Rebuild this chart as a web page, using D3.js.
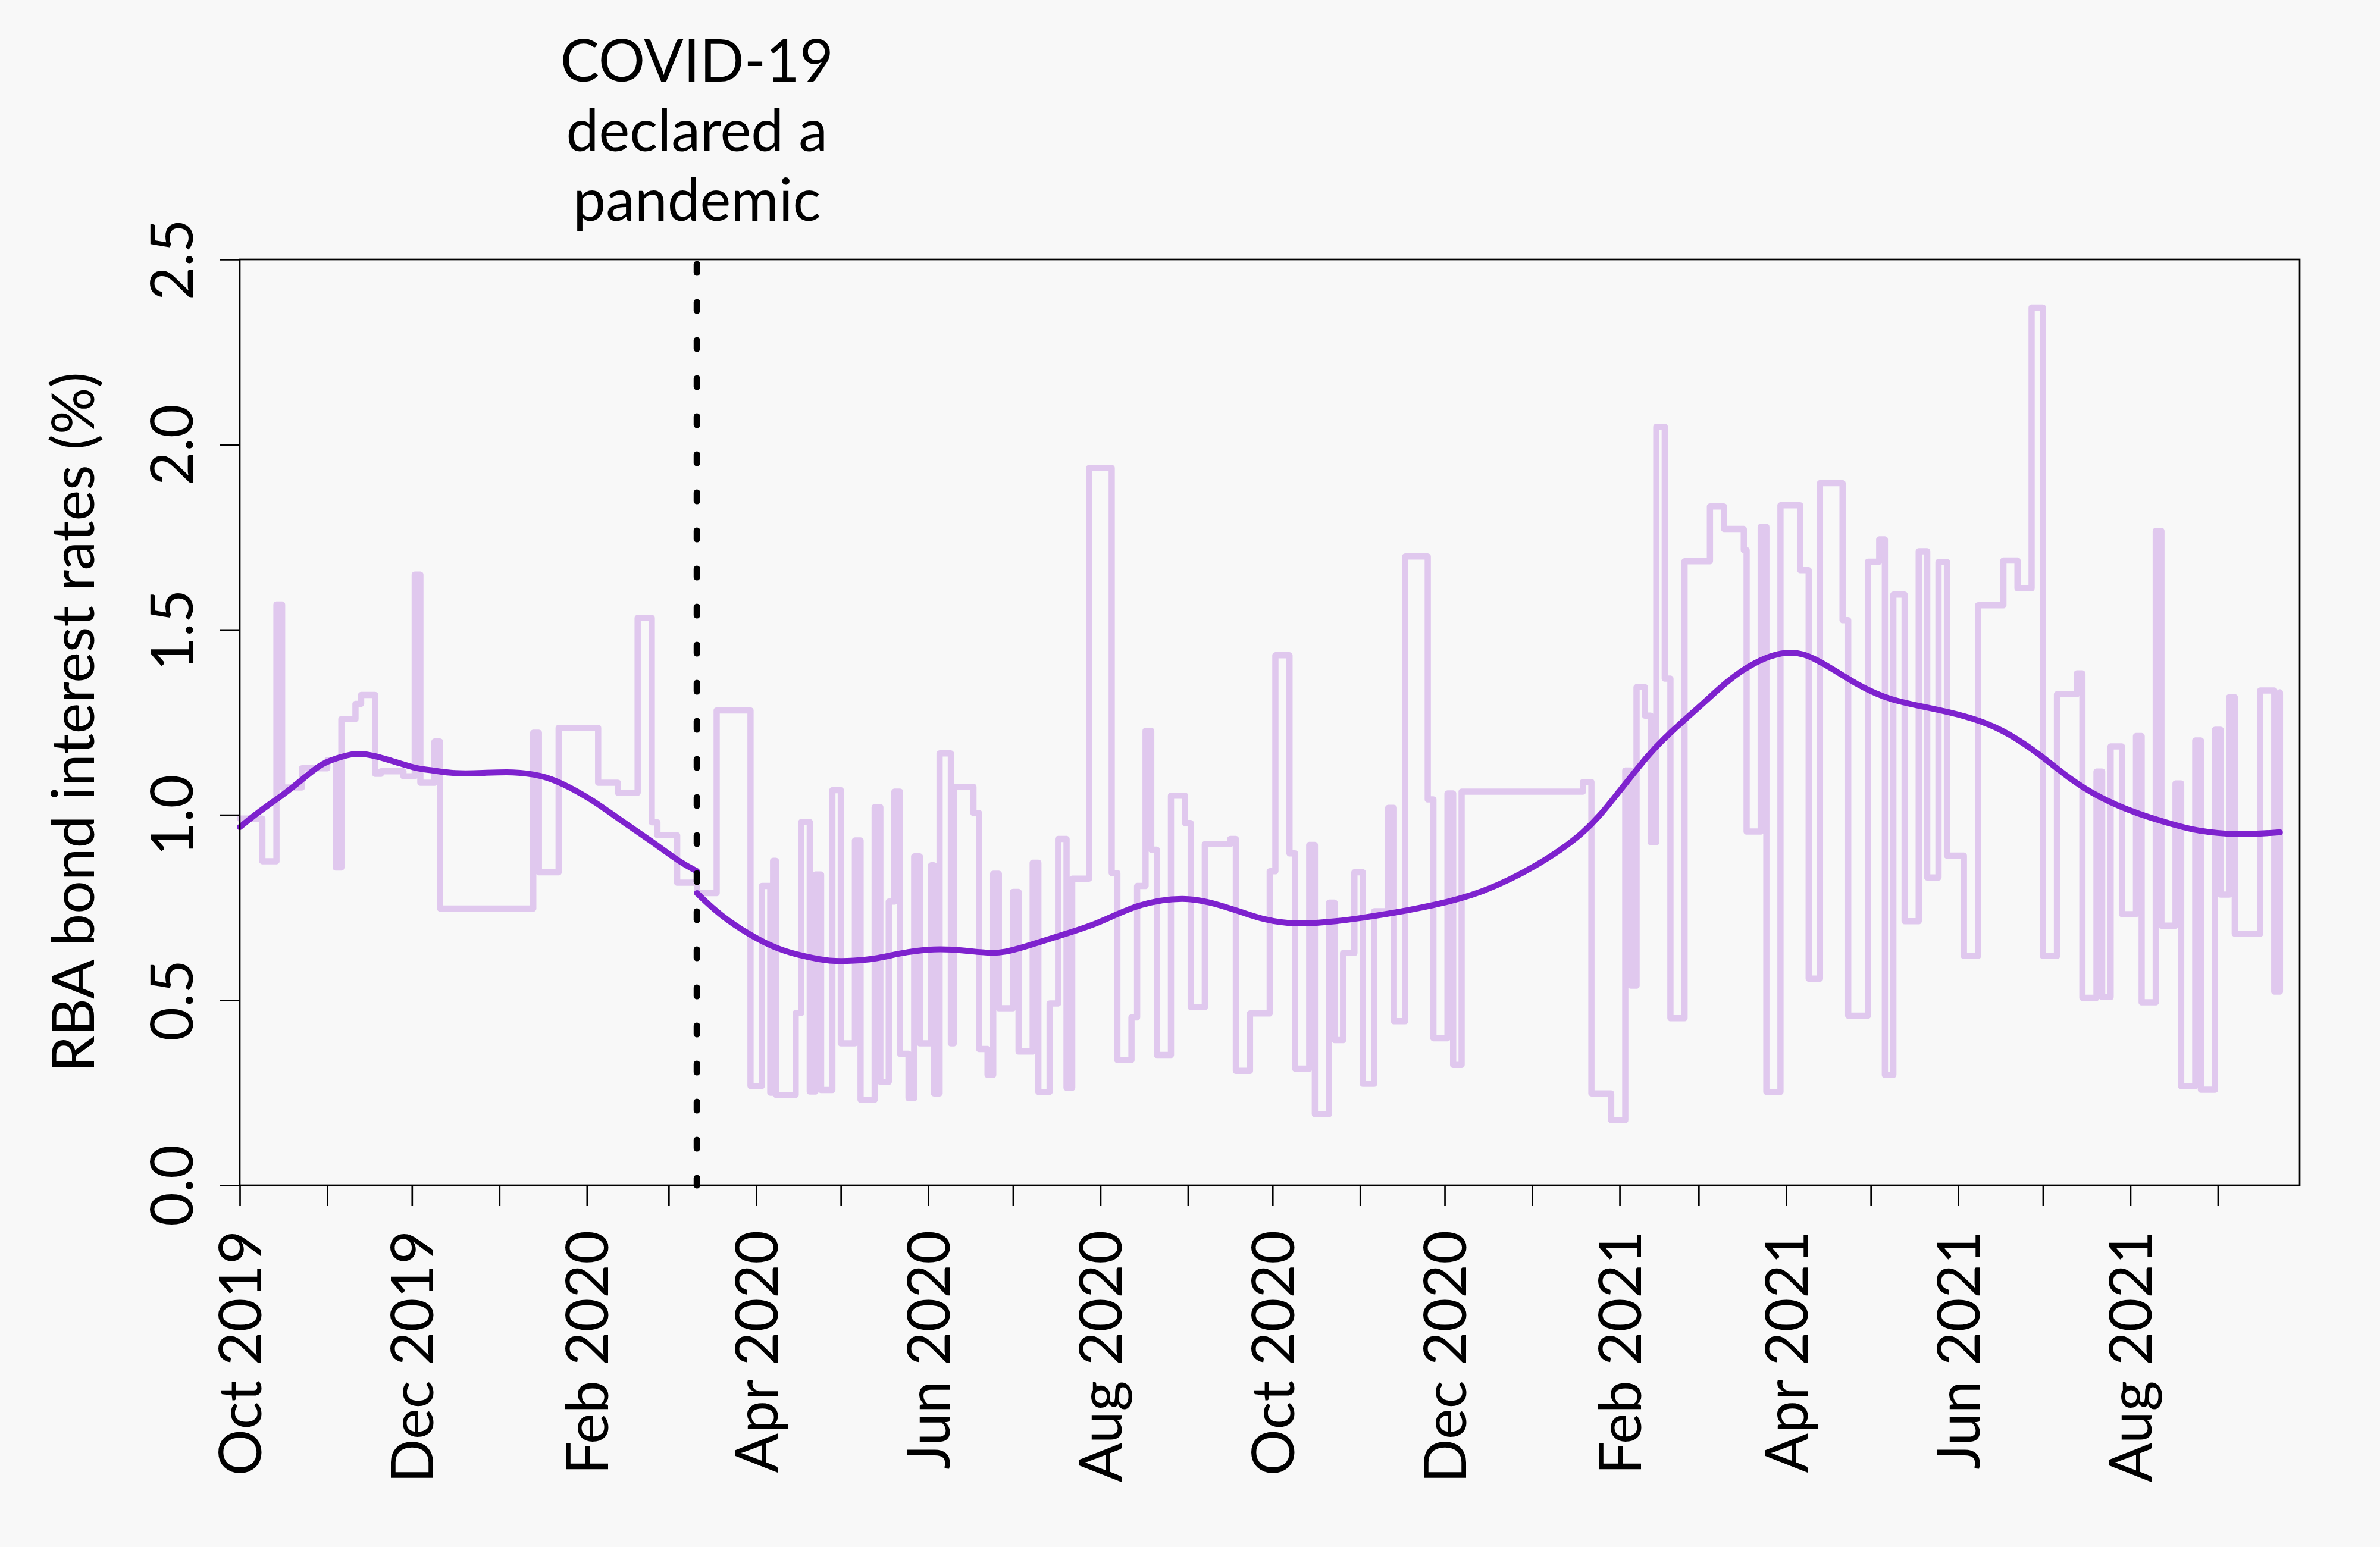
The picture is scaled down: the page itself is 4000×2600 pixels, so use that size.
<!DOCTYPE html>
<html>
<head>
<meta charset="utf-8">
<script src="https://cdn.jsdelivr.net/npm/d3@7"></script>
<style>
  body { margin: 0; background: #f8f8f8; }
  text { font-family: Lato, "Open Sans", sans-serif; fill: #000; }
</style>
</head>
<body>
<div id="chart"></div>
<script>
// bond rates, step series
const stepDates = [
    "2019-10-01", "2019-10-09", "2019-10-14", "2019-10-16", "2019-10-23", "2019-11-01", "2019-11-04", "2019-11-06",
    "2019-11-11", "2019-11-13", "2019-11-18", "2019-11-20", "2019-11-28", "2019-12-02", "2019-12-04", "2019-12-09",
    "2019-12-11", "2020-01-13", "2020-01-15", "2020-01-22", "2020-02-05", "2020-02-12", "2020-02-19", "2020-02-24",
    "2020-02-26", "2020-03-04", "2020-03-11", "2020-03-18", "2020-03-30", "2020-04-03", "2020-04-06", "2020-04-07",
    "2020-04-08", "2020-04-15", "2020-04-17", "2020-04-20", "2020-04-22", "2020-04-24", "2020-04-28", "2020-05-01",
    "2020-05-06", "2020-05-08", "2020-05-13", "2020-05-15", "2020-05-18", "2020-05-20", "2020-05-22", "2020-05-25",
    "2020-05-27", "2020-05-29", "2020-06-02", "2020-06-03", "2020-06-05", "2020-06-09", "2020-06-10", "2020-06-17",
    "2020-06-19", "2020-06-22", "2020-06-24", "2020-06-26", "2020-07-01", "2020-07-03", "2020-07-08", "2020-07-10",
    "2020-07-14", "2020-07-17", "2020-07-20", "2020-07-22", "2020-07-28", "2020-08-05", "2020-08-07", "2020-08-12",
    "2020-08-14", "2020-08-17", "2020-08-19", "2020-08-21", "2020-08-26", "2020-08-31", "2020-09-02", "2020-09-07",
    "2020-09-16", "2020-09-18", "2020-09-23", "2020-09-30", "2020-10-02", "2020-10-07", "2020-10-09", "2020-10-14",
    "2020-10-16", "2020-10-21", "2020-10-23", "2020-10-26", "2020-10-30", "2020-11-02", "2020-11-06", "2020-11-11",
    "2020-11-13", "2020-11-17", "2020-11-25", "2020-11-27", "2020-12-02", "2020-12-04", "2020-12-07", "2021-01-19",
    "2021-01-22", "2021-01-29", "2021-02-03", "2021-02-05", "2021-02-07", "2021-02-10", "2021-02-12", "2021-02-14",
    "2021-02-17", "2021-02-19", "2021-02-24", "2021-03-05", "2021-03-10", "2021-03-17", "2021-03-18", "2021-03-23",
    "2021-03-25", "2021-03-30", "2021-04-06", "2021-04-09", "2021-04-13", "2021-04-21", "2021-04-23", "2021-04-30",
    "2021-05-04", "2021-05-06", "2021-05-09", "2021-05-13", "2021-05-18", "2021-05-21", "2021-05-25", "2021-05-28",
    "2021-06-03", "2021-06-08", "2021-06-17", "2021-06-22", "2021-06-27", "2021-07-01", "2021-07-06", "2021-07-13",
    "2021-07-15", "2021-07-20", "2021-07-22", "2021-07-25", "2021-07-29", "2021-08-03", "2021-08-05", "2021-08-10",
    "2021-08-12", "2021-08-17", "2021-08-19", "2021-08-24", "2021-08-26", "2021-08-31", "2021-09-02", "2021-09-05",
    "2021-09-07", "2021-09-16", "2021-09-21", "2021-09-23"
];
const stepValues = [
    0.99, 0.875, 1.568, 1.074, 1.126, 1.148, 0.858, 1.259,
    1.30, 1.324, 1.111, 1.118, 1.104, 1.649, 1.087, 1.198,
    0.747, 1.222, 0.845, 1.235, 1.087, 1.060, 1.532, 0.980,
    0.945, 0.817, 0.789, 1.282, 0.268, 0.808, 0.25, 0.876,
    0.244, 0.465, 0.981, 0.253, 0.839, 0.257, 1.067, 0.383,
    0.931, 0.231, 1.021, 0.279, 0.766, 1.063, 0.355, 0.235,
    0.888, 0.383, 0.864, 0.248, 1.166, 0.383, 1.076, 1.005,
    0.368, 0.298, 0.841, 0.478, 0.792, 0.361, 0.871, 0.252,
    0.491, 0.935, 0.263, 0.828, 1.937, 0.843, 0.338, 0.453,
    0.808, 1.227, 0.906, 0.352, 1.052, 0.978, 0.481, 0.921,
    0.935, 0.309, 0.464, 0.848, 1.431, 0.896, 0.315, 0.919,
    0.192, 0.763, 0.392, 0.627, 0.845, 0.274, 0.740, 1.019,
    0.443, 1.698, 1.042, 0.397, 1.058, 0.325, 1.063, 1.089,
    0.248, 0.176, 1.120, 0.539, 1.345, 1.268, 0.926, 2.048,
    1.368, 0.451, 1.685, 1.833, 1.772, 1.715, 0.955, 1.778,
    0.252, 1.836, 1.661, 0.558, 1.896, 1.526, 0.458, 1.684,
    1.744, 0.298, 1.595, 0.713, 1.712, 0.831, 1.683, 0.890,
    0.619, 1.566, 1.687, 1.612, 2.370, 0.619, 1.326, 1.382,
    0.506, 1.117, 0.508, 1.185, 0.732, 1.213, 0.494, 1.767,
    0.701, 1.085, 0.267, 1.201, 0.258, 1.230, 0.785, 1.318,
    0.679, 1.336, 0.523, 1.331
];

// smoothed trend before the pandemic declaration
const trendPreDates = [
    "2019-10-01", "2019-10-08", "2019-10-17", "2019-10-23", "2019-10-30", "2019-11-04", "2019-11-11",
    "2019-11-18", "2019-11-26", "2019-12-03", "2019-12-08", "2019-12-16", "2019-12-26", "2020-01-06",
    "2020-01-16", "2020-01-23", "2020-02-03", "2020-02-13", "2020-02-24", "2020-03-05", "2020-03-11"
];
const trendPreValues = [
    0.967, 1.010, 1.058, 1.095, 1.139, 1.152, 1.169,
    1.160, 1.141, 1.124, 1.121, 1.111, 1.113, 1.117,
    1.107, 1.087, 1.041, 0.985, 0.929, 0.872, 0.848
];

// smoothed trend after it
const trendPostDates = [
    "2020-03-11", "2020-03-19", "2020-03-30", "2020-04-09", "2020-04-18", "2020-04-27", "2020-05-06",
    "2020-05-13", "2020-05-20", "2020-05-27", "2020-06-05", "2020-06-14", "2020-06-23", "2020-06-28",
    "2020-07-05", "2020-07-17", "2020-07-31", "2020-08-14", "2020-08-31", "2020-09-11", "2020-09-21",
    "2020-09-28", "2020-10-08", "2020-10-23", "2020-11-09", "2020-11-27", "2020-12-14", "2021-01-02",
    "2021-01-20", "2021-01-30", "2021-02-10", "2021-02-17", "2021-03-04", "2021-03-16", "2021-04-02",
    "2021-04-13", "2021-04-28", "2021-05-08", "2021-05-19", "2021-05-28", "2021-06-09", "2021-06-19",
    "2021-06-30", "2021-07-10", "2021-07-21", "2021-08-04", "2021-08-18", "2021-08-24", "2021-09-07",
    "2021-09-23"
];
const trendPostValues = [
    0.789, 0.730, 0.674, 0.636, 0.618, 0.604, 0.606,
    0.611, 0.623, 0.633, 0.639, 0.634, 0.626, 0.629,
    0.643, 0.673, 0.705, 0.760, 0.780, 0.760, 0.735,
    0.717, 0.704, 0.711, 0.730, 0.755, 0.788, 0.858,
    0.951, 1.045, 1.152, 1.210, 1.310, 1.396, 1.453,
    1.417, 1.342, 1.311, 1.293, 1.279, 1.255, 1.220,
    1.163, 1.100, 1.046, 1.001, 0.970, 0.958, 0.945,
    0.953
];

const pandemicDate = "2020-03-11";
const pandemicLabel = ["COVID-19", "declared a", "pandemic"];
const yTicks = [0, 0.5, 1.0, 1.5, 2.0, 2.5];
const xLabelDates = ["2019-10-01", "2019-12-01", "2020-02-01", "2020-04-01", "2020-06-01", "2020-08-01",
    "2020-10-01", "2020-12-01", "2021-02-01", "2021-04-01", "2021-06-01", "2021-08-01"];
const xDomain = ["2019-10-01", "2021-09-30"];

const parseDate = d3.timeParse("%Y-%m-%d");
const fmtLabel = d3.timeFormat("%b %Y");
const fontSize = 98;

const margin = { top: 436, right: 135, bottom: 608, left: 403 };
const W = 4000, H = 2600;
const width = W - margin.left - margin.right;
const height = H - margin.top - margin.bottom;

const svg = d3.select("#chart")
    .append("svg")
    .attr("width", W)
    .attr("height", H)
    .style("display", "block");

svg.append("rect").attr("width", W).attr("height", H).attr("fill", "#f8f8f8");

const g = svg.append("g")
    .attr("transform", `translate(${margin.left},${margin.top})`);

const x = d3.scaleTime()
    .domain(xDomain.map(parseDate))
    .range([0, width]);

const y = d3.scaleLinear()
    .domain([0, 2.5])
    .range([height, 0]);

const steps = stepDates.map((d, i) => ({ date: parseDate(d), value: stepValues[i] }));
const pre = trendPreDates.map((d, i) => ({ date: parseDate(d), value: trendPreValues[i] }));
const post = trendPostDates.map((d, i) => ({ date: parseDate(d), value: trendPostValues[i] }));

g.append("path")
    .datum(steps)
    .attr("fill", "none")
    .attr("stroke", "#e0c8ee")
    .attr("stroke-width", 10.5)
    .attr("stroke-linejoin", "round")
    .attr("stroke-linecap", "round")
    .attr("d", d3.line().x(d => x(d.date)).y(d => y(d.value)).curve(d3.curveStepAfter));

// smooth curve through the read-off trend points
const trendLine = d3.line()
    .x(d => x(d.date))
    .y(d => y(d.value))
    .curve(d3.curveBasis);

[pre, post].forEach(series => {
    g.append("path")
        .datum(series)
        .attr("fill", "none")
        .attr("stroke", "#7e22ce")
        .attr("stroke-width", 10)
        .attr("stroke-linecap", "round")
        .attr("d", trendLine);
});

// pandemic marker
const px = x(parseDate(pandemicDate));
g.append("line")
    .attr("x1", px).attr("x2", px)
    .attr("y1", 8).attr("y2", height)
    .attr("stroke", "#000")
    .attr("stroke-width", 11)
    .attr("stroke-linecap", "round")
    .attr("stroke-dasharray", "14 50");

const note = svg.append("text")
    .attr("text-anchor", "middle")
    .style("font-size", fontSize + "px");
pandemicLabel.forEach((t, i) => {
    note.append("tspan")
        .attr("x", margin.left + px)
        .attr("y", 137 + i * 117)
        .text(t);
});

// axes
const xAxis = g.append("g")
    .attr("transform", `translate(0,${height})`)
    .call(d3.axisBottom(x)
        .tickValues(d3.timeMonth.range(parseDate(xDomain[0]), parseDate(xDomain[1])))
        .tickSize(35)
        .tickFormat(d => xLabelDates.includes(d3.timeFormat("%Y-%m-%d")(d)) ? fmtLabel(d) : ""));
xAxis.select(".domain").remove();
xAxis.selectAll(".tick line").attr("stroke", "#000").attr("stroke-width", 2.7);
xAxis.selectAll(".tick text")
    .attr("x", -76)
    .attr("y", 0)
    .attr("dy", "0.36em")
    .attr("transform", "rotate(-90)")
    .attr("text-anchor", "end")
    .style("font-size", fontSize + "px")
    .style("font-family", "Lato");

const yAxis = g.append("g")
    .call(d3.axisLeft(y).tickValues(yTicks).tickSize(34).tickFormat(d3.format(".1f")));
yAxis.select(".domain").remove();
yAxis.selectAll(".tick line").attr("stroke", "#000").attr("stroke-width", 2.7);
yAxis.selectAll(".tick text")
    .attr("x", 0)
    .attr("dy", 0)
    .attr("transform", "translate(-79,0) rotate(-90)")
    .attr("text-anchor", "middle")
    .style("font-size", fontSize + "px")
    .style("font-family", "Lato");

g.append("rect")
    .attr("width", width)
    .attr("height", height)
    .attr("fill", "none")
    .attr("stroke", "#000")
    .attr("stroke-width", 2.7);

svg.append("text")
    .attr("transform", `translate(158,${margin.top + height / 2}) rotate(-90)`)
    .attr("text-anchor", "middle")
    .style("font-size", fontSize + "px")
    .text("RBA bond interest rates (%)");
</script>
</body>
</html>
